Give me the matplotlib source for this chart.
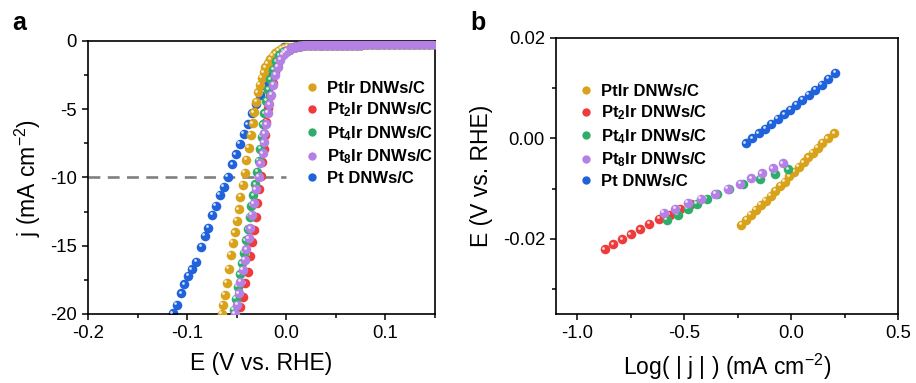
import numpy as np
import matplotlib
matplotlib.use('Agg')
import matplotlib.pyplot as plt
from matplotlib.lines import Line2D
from matplotlib.ticker import MultipleLocator
from matplotlib.transforms import ScaledTranslation

plt.rcParams['font.family'] = ['Liberation Sans', 'DejaVu Sans']
plt.rcParams['mathtext.fontset'] = 'custom'
plt.rcParams['mathtext.rm'] = 'Liberation Sans'
plt.rcParams['mathtext.it'] = 'Liberation Sans'
plt.rcParams['mathtext.bf'] = 'Liberation Sans:bold'
plt.rcParams['axes.unicode_minus'] = False

# ---- data ----
labels = ['PtIr DNWs/C', r'Pt$_\mathbf{2}$Ir DNWs/C', r'Pt$_\mathbf{4}$Ir DNWs/C',
          r'Pt$_\mathbf{8}$Ir DNWs/C', 'Pt DNWs/C']
colors = ['#D9A21B', '#EE3B3B', '#2FAE6B', '#B580E6', '#1F62DB']

# panel a: polarisation curves, E (V) and j (mA cm-2)
# flat part near 0 mA cm-2, shared by all five curves
plateau_E = [0.0025, 0.005, 0.0075, 0.01, 0.0125, 0.015, 0.0175, 0.02, 0.0225, 0.025,
             0.0275, 0.03, 0.0325, 0.035, 0.0375, 0.04, 0.0425, 0.045, 0.0475, 0.05,
             0.0525, 0.055, 0.0575, 0.06, 0.0625, 0.065, 0.0675, 0.07, 0.0725, 0.075,
             0.0775, 0.08, 0.0825, 0.085, 0.0875, 0.09, 0.0925, 0.095, 0.0975, 0.1,
             0.1025, 0.105, 0.1075, 0.11, 0.1125, 0.115, 0.1175, 0.12, 0.1225, 0.125,
             0.1275, 0.13, 0.1325, 0.135, 0.1375, 0.14, 0.1425, 0.145, 0.1475, 0.15]
plateau_j = [-0.66, -0.55, -0.47, -0.41, -0.37, -0.34, -0.32, -0.31, -0.30, -0.29,
             -0.29, -0.28, -0.28, -0.28, -0.27, -0.27, -0.27, -0.27, -0.27, -0.27,
             -0.26, -0.26, -0.26, -0.26, -0.26, -0.26, -0.26, -0.26, -0.26, -0.26,
             -0.25, -0.25, -0.25, -0.25, -0.25, -0.25, -0.25, -0.25, -0.25, -0.25,
             -0.25, -0.25, -0.25, -0.25, -0.25, -0.25, -0.25, -0.25, -0.25, -0.25,
             -0.25, -0.25, -0.25, -0.25, -0.25, -0.25, -0.25, -0.25, -0.25, -0.25]

E_ptir = [-0.0653, -0.0643, -0.062, -0.060, -0.0583, -0.056, -0.054, -0.052, -0.050,
          -0.048, -0.0463, -0.044, -0.0417, -0.0403, -0.038, -0.036, -0.0337, -0.0327,
          -0.0303, -0.0287, -0.0267, -0.025, -0.023, -0.021, -0.0187, -0.0163, -0.0137,
          -0.011, -0.0083, -0.0053, -0.002, 0.001]
j_ptir = [-20.0, -19.34, -18.61, -17.71, -16.70, -15.68, -14.78, -14.01, -13.19,
          -12.33, -11.41, -10.55, -9.65, -8.72, -7.82, -6.89, -6.03, -5.22,
          -4.45, -3.76, -3.22, -2.69, -2.29, -1.93, -1.63, -1.34, -1.10,
          -0.90, -0.73, -0.59, -0.48, -0.44]

E_pt2ir = [-0.0463, -0.044, -0.0413, -0.0387, -0.037, -0.0347, -0.0327, -0.031,
           -0.0297, -0.028, -0.0253, -0.0245, -0.023, -0.0215, -0.020, -0.018, -0.016,
           -0.0135, -0.011, -0.008, -0.005, -0.001]
j_pt2ir = [-19.51, -18.73, -17.75, -16.90, -15.75, -14.70, -13.85, -12.87,
           -11.89, -10.86, -9.89, -8.9, -7.9, -6.9, -5.9, -4.9, -4.0,
           -3.1, -2.3, -1.6, -1.05, -0.7]

E_pt4ir = [-0.053, -0.051, -0.049, -0.047, -0.045, -0.043, -0.041, -0.039, -0.037,
           -0.0355, -0.0335, -0.0315, -0.0295, -0.028, -0.0265, -0.025, -0.0235, -0.022,
           -0.020, -0.018, -0.016, -0.013, -0.010, -0.007, -0.003, 0.0]
j_pt4ir = [-19.7, -18.9, -18.0, -17.1, -16.3, -15.5, -14.6, -13.8, -12.9,
           -12.1, -11.3, -10.5, -9.6, -8.8, -7.9, -7.0, -6.1, -5.3,
           -4.4, -3.6, -2.8, -2.1, -1.5, -1.05, -0.8, -0.7]

E_pt8ir = [-0.052, -0.0497, -0.0477, -0.0463, -0.0437, -0.042, -0.0403, -0.0377,
           -0.0363, -0.0347, -0.0327, -0.031, -0.028, -0.0263, -0.0237, -0.0227, -0.022,
           -0.0203, -0.0187, -0.017, -0.0153, -0.013, -0.011, -0.0087, -0.0063,
           -0.0037, -0.0015, 0.0005]
j_pt8ir = [-20.0, -19.34, -18.48, -17.63, -16.78, -16.04, -15.26, -14.45,
           -13.72, -12.75, -11.89, -10.86, -9.94, -8.96, -8.23, -7.42, -6.76,
           -6.10, -5.25, -4.64, -3.96, -3.22, -2.49, -1.88, -1.39,
           -1.03, -0.86, -0.74]

E_pt = [-0.1143, -0.1103, -0.106, -0.1027, -0.0987, -0.0953, -0.091, -0.086, -0.0823,
        -0.0787, -0.0747, -0.071, -0.067, -0.063, -0.059, -0.0547, -0.051, -0.047,
        -0.0427, -0.0387, -0.0347, -0.0303, -0.0265, -0.023, -0.0195, -0.016, -0.0125,
        -0.009, -0.0055, -0.002]
j_pt = [-19.95, -19.34, -18.48, -17.82, -17.22, -16.73, -16.17, -15.07, -14.26,
        -13.68, -12.75, -12.09, -11.28, -10.67, -9.94, -9.03, -8.30, -7.55,
        -6.81, -6.10, -5.30, -4.62, -3.95, -3.25, -2.6, -2.0, -1.45,
        -1.0, -0.65, -0.42]

# panel b: Tafel plots, log|j| and E (V)
logj_ptir = [-0.234, -0.211, -0.188, -0.165, -0.142, -0.119, -0.096, -0.074, -0.052, -0.030,
             -0.008, 0.014, 0.036, 0.058, 0.080, 0.102, 0.124, 0.146, 0.170, 0.201]
Et_ptir = [-0.0172, -0.0162, -0.0152, -0.0143, -0.0133, -0.0124, -0.0114, -0.0105, -0.0095, -0.0086,
           -0.0076, -0.0067, -0.0057, -0.0048, -0.0038, -0.0029, -0.0019, -0.0009, 0.0000, 0.0010]

logj_pt2ir = [-0.872, -0.832, -0.790, -0.750, -0.706, -0.664, -0.617, -0.569, -0.519, -0.47]
Et_pt2ir = [-0.0221, -0.0211, -0.0201, -0.0191, -0.0181, -0.0171, -0.0161, -0.0152, -0.0140, -0.0131]

logj_pt4ir = [-0.581, -0.531, -0.484, -0.441, -0.394, -0.347, -0.293, -0.223, -0.145, -0.075, -0.013]
Et_pt4ir = [-0.0162, -0.0152, -0.0141, -0.0131, -0.0121, -0.0111, -0.0101, -0.0091, -0.0081, -0.0071, -0.0062]

logj_pt8ir = [-0.597, -0.542, -0.483, -0.422, -0.355, -0.296, -0.238, -0.187, -0.137, -0.085, -0.039]
Et_pt8ir = [-0.0149, -0.0141, -0.0129, -0.0121, -0.0111, -0.0101, -0.0090, -0.0080, -0.0070, -0.0060, -0.0050]

logj_pt = [-0.212, -0.182, -0.152, -0.122, -0.093, -0.063, -0.033, -0.005, 0.024,
           0.053, 0.082, 0.112, 0.142, 0.173, 0.206]
Et_pt = [-0.0010, 0.0000, 0.0010, 0.0019, 0.0029, 0.0039, 0.0048, 0.0057, 0.0067,
         0.0077, 0.0087, 0.0097, 0.0107, 0.0119, 0.0131]

MS = 6.9


def balls(ax, x, y, color, z, shine=True):
    # coloured ball with a small white highlight to mimic the shaded spheres
    ax.plot(x, y, 'o', ms=MS, color=color, mec='none', zorder=z)
    if shine:
        off = ax.transData + ScaledTranslation(-1.1 / 72, 1.2 / 72, ax.figure.dpi_scale_trans)
        ax.plot(x, y, 'o', ms=2.0, color='white', alpha=0.8, mec='none', transform=off,
                zorder=z + 0.1)


def style(ax):
    for s in ax.spines.values():
        s.set_linewidth(1.2)
    ax.tick_params(which='both', direction='out', top=False, right=False, width=1.1, labelsize=13.3)
    ax.tick_params(which='major', length=4.5)
    ax.tick_params(which='minor', length=2.8)


def add_legend(ax, anchor):
    handles = [Line2D([], [], marker='o', ls='', ms=6.0, color=c, mec='none') for c in colors]
    ax.legend(handles, labels, loc='upper left', bbox_to_anchor=anchor, frameon=False,
              prop={'weight': 'bold', 'size': 12}, handlelength=0.9, handletextpad=0.45,
              labelspacing=0.29, borderpad=0, borderaxespad=0)


fig = plt.figure(figsize=(9.16, 3.83), dpi=100)

# ---- panel a ----
ax1 = fig.add_axes([0.0961, 0.1802, 0.3788, 0.7128])
ax1.plot([-0.2, 0.0], [-10, -10], ls=(0, (4.5, 2.8)), color='#808080', lw=1.9, zorder=1)
series_a = [(E_pt, j_pt, 4), (E_ptir, j_ptir, 0), (E_pt2ir, j_pt2ir, 1),
            (E_pt4ir, j_pt4ir, 2), (E_pt8ir, j_pt8ir, 3)]
for k, (xe, yj, ci) in enumerate(series_a):
    balls(ax1, plateau_E, plateau_j, colors[ci], 2 + k, shine=False)
    balls(ax1, xe, yj, colors[ci], 2.5 + k)
ax1.set_xlim(-0.2, 0.15)
ax1.set_ylim(-20, 0)
ax1.xaxis.set_major_locator(MultipleLocator(0.1))
ax1.xaxis.set_minor_locator(MultipleLocator(0.05))
ax1.yaxis.set_major_locator(MultipleLocator(5))
ax1.yaxis.set_minor_locator(MultipleLocator(2.5))
ax1.xaxis.set_major_formatter(plt.FuncFormatter(lambda v, p: f'{v:.1f}'))
style(ax1)
ax1.set_xlabel('E (V vs. RHE)', fontsize=16.5, labelpad=7)
ax1.set_ylabel('j (mA cm$^{-2}$)', fontsize=16.5, labelpad=5)
add_legend(ax1, (0.625, 0.855))
fig.text(0.013, 0.94, 'a', fontsize=18, fontweight='bold', va='center')

# ---- panel b ----
ax2 = fig.add_axes([0.607, 0.1802, 0.3734, 0.7206])
series_b = [(logj_pt, Et_pt, 4), (logj_ptir, Et_ptir, 0), (logj_pt2ir, Et_pt2ir, 1),
            (logj_pt4ir, Et_pt4ir, 2), (logj_pt8ir, Et_pt8ir, 3)]
for k, (xl, ye, ci) in enumerate(series_b):
    balls(ax2, xl, ye, colors[ci], 2 + k)
ax2.set_xlim(-1.1, 0.5)
ax2.set_ylim(-0.035, 0.02)
ax2.xaxis.set_major_locator(MultipleLocator(0.5))
ax2.xaxis.set_minor_locator(MultipleLocator(0.25))
ax2.yaxis.set_major_locator(MultipleLocator(0.02))
ax2.yaxis.set_minor_locator(MultipleLocator(0.01))
ax2.yaxis.set_major_formatter(plt.FuncFormatter(lambda v, p: f'{v:.2f}'))
ax2.xaxis.set_major_formatter(plt.FuncFormatter(lambda v, p: f'{v:.1f}'))
style(ax2)
ax2.set_xlabel('Log( | j | ) (mA cm$^{-2}$)', fontsize=16.5, labelpad=7)
ax2.set_ylabel('E (V vs. RHE)', fontsize=16.5, labelpad=7)
add_legend(ax2, (0.065, 0.835))
fig.text(0.514, 0.94, 'b', fontsize=18, fontweight='bold', va='center')

fig.savefig('out.png', dpi=100)
